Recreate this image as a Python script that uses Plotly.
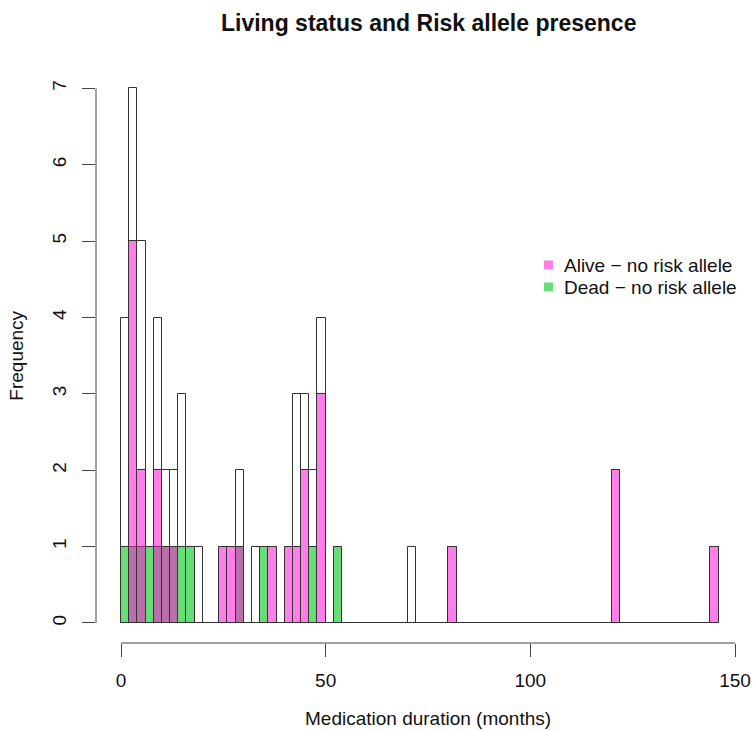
import numpy as np
import plotly.graph_objects as go

# ---------------- data ----------------
title_text = "Living status and Risk allele presence"
x_label = "Medication duration (months)"
y_label = "Frequency"

bin_width = 2
n_bins = 73  # bins 0-2, 2-4, ..., 144-146

# left edge of every non-empty bin
bin_left = [0, 2, 4, 6, 8, 10, 12, 14, 16, 18, 24, 26, 28, 32, 34, 36,
            40, 42, 44, 46, 48, 52, 70, 80, 120, 144]
total_counts = [4, 7, 5, 1, 4, 2, 2, 3, 1, 1, 1, 1, 2, 1, 1, 1,
                1, 3, 3, 2, 4, 1, 1, 1, 2, 1]
alive_no_risk = [0, 5, 2, 0, 2, 1, 1, 0, 0, 0, 1, 1, 1, 0, 0, 1,
                 1, 1, 2, 0, 3, 0, 0, 1, 2, 1]
dead_no_risk = [1, 1, 1, 1, 1, 1, 1, 1, 1, 0, 0, 0, 1, 0, 1, 0,
                0, 0, 0, 1, 0, 1, 0, 0, 0, 0]

series_names = ["Alive \u2212 no risk allele", "Dead \u2212 no risk allele"]
x_ticks = [0, 50, 100, 150]
y_ticks = [0, 1, 2, 3, 4, 5, 6, 7]

# ---------------- build full bin arrays ----------------
edges = np.arange(n_bins) * bin_width
centers = edges + bin_width / 2
idx = (np.array(bin_left) // bin_width).astype(int)


def full(vals):
    arr = np.zeros(n_bins)
    arr[idx] = vals
    return arr


total_full = full(total_counts)
alive_full = full(alive_no_risk)
dead_full = full(dead_no_risk)

FONT = "Liberation Sans, Arial, sans-serif"
EDGE = "#333333"
PINK = "rgba(255,20,215,0.55)"
GREEN = "#66DD77"
PINK_SOLID = "#FF7EE6"

fig = go.Figure()
fig.add_trace(go.Bar(x=centers, y=total_full, width=bin_width,
                     marker=dict(color="white", line=dict(color=EDGE, width=1)),
                     showlegend=False, name="All"))
fig.add_trace(go.Bar(x=centers, y=dead_full, width=bin_width,
                     marker=dict(color=GREEN, line=dict(color=EDGE, width=1)),
                     name=series_names[1], showlegend=False))
fig.add_trace(go.Bar(x=centers, y=alive_full, width=bin_width,
                     marker=dict(color=PINK, line=dict(color=EDGE, width=1)),
                     name=series_names[0], showlegend=False))

W, H = 754, 731
ml, mr, mt, mb = 96, 0, 67, 88
PW, PH = W - ml - mr, H - mt - mb
px_per_unit = (735 - 121) / 150.0
x0 = -(121 - ml) / px_per_unit
x1 = x0 + PW / px_per_unit


def px_x(p):
    return (p - ml) / PW


def px_y(p):
    return 1 - (p - mt) / PH


# manual legend (R style: small filled boxes, no frame)
legend_rows_y = [265, 287]
legend_colors = [PINK_SOLID, GREEN]
shapes = [
    dict(type="line", xref="x", yref="paper", x0=x_ticks[0], x1=x_ticks[-1],
         y0=0, y1=0, line=dict(color="#444444", width=1)),
    dict(type="line", xref="paper", yref="y", x0=0, x1=0,
         y0=y_ticks[0], y1=y_ticks[-1], line=dict(color="#444444", width=1)),
]
annotations = [
    dict(text="<b>" + title_text + "</b>", xref="x", yref="paper",
         x=(x_ticks[0] + x_ticks[-1]) / 2, y=px_y(23),
         xanchor="center", yanchor="middle", showarrow=False,
         font=dict(size=23, family=FONT, color="#111111")),
    dict(text=x_label, xref="x", yref="paper",
         x=(x_ticks[0] + x_ticks[-1]) / 2, y=px_y(718),
         xanchor="center", yanchor="middle", showarrow=False,
         font=dict(size=19, family=FONT, color="#111111")),
    dict(text=y_label, xref="paper", yref="y", textangle=-90,
         x=px_x(17), y=(y_ticks[0] + y_ticks[-1]) / 2,
         xanchor="center", yanchor="middle", showarrow=False,
         font=dict(size=19, family=FONT, color="#111111")),
]
for name, col, yy in zip(series_names, legend_colors, legend_rows_y):
    shapes.append(dict(type="rect", xref="paper", yref="paper",
                       x0=px_x(544), x1=px_x(553), y0=px_y(yy + 4.5), y1=px_y(yy - 4.5),
                       fillcolor=col, line=dict(width=0)))
    annotations.append(dict(text=name, xref="paper", yref="paper",
                            x=px_x(562), y=px_y(yy), xanchor="left", yanchor="middle",
                            showarrow=False,
                            font=dict(size=19, family=FONT, color="#111111")))

fig.update_layout(
    width=W, height=H,
    margin=dict(l=ml, r=mr, t=mt, b=mb, pad=0),
    paper_bgcolor="white", plot_bgcolor="white",
    barmode="overlay", bargap=0, showlegend=False,
    font=dict(family=FONT, size=19, color="#111111"),
    xaxis=dict(range=[x0, x1], tickvals=x_ticks, ticks="outside", ticklen=13,
               tickwidth=1, tickcolor="#444444", showline=False, showgrid=False,
               zeroline=False, ticklabelstandoff=7,
               tickfont=dict(size=19, family=FONT, color="#111111")),
    yaxis=dict(range=[-0.262, 7.28], tickvals=y_ticks, ticks="outside", ticklen=13,
               tickwidth=1, tickcolor="#444444", showline=False, showgrid=False,
               zeroline=False, tickangle=-90, ticklabelstandoff=8,
               tickfont=dict(size=19, family=FONT, color="#111111")),
    shapes=shapes,
    annotations=annotations,
)

fig.write_html("out.html",
               config={"displayModeBar": False, "staticPlot": False},
               post_script="document.body.style.margin='0';document.body.style.overflow='hidden';")
